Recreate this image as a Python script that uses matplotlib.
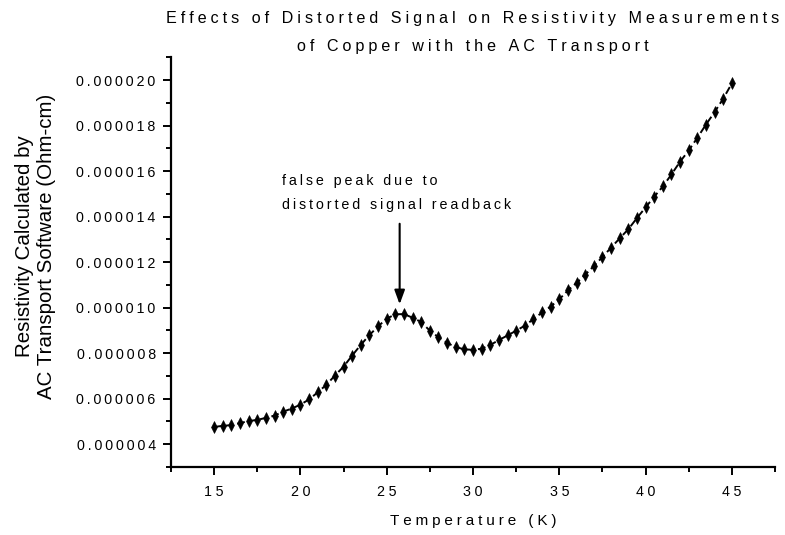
import matplotlib

matplotlib.use("Agg")

import matplotlib.pyplot as plt
import numpy as np
from matplotlib.ticker import FixedLocator, FuncFormatter

plt.rcParams["font.family"] = ["Liberation Sans", "DejaVu Sans"]

# temperature (K) and resistivity (in units of 1e-6 Ohm-cm)
temperature = [15.0, 15.5, 16.0, 16.5, 17.0, 17.5, 18.0, 18.5, 19.0, 19.5,
               20.0, 20.5, 21.0, 21.5, 22.0, 22.5, 23.0, 23.5, 24.0, 24.5,
               25.0, 25.5, 26.0, 26.5, 27.0, 27.5, 28.0, 28.5, 29.0, 29.5,
               30.0, 30.5, 31.0, 31.5, 32.0, 32.5, 33.0, 33.5, 34.0, 34.5,
               35.0, 35.5, 36.0, 36.5, 37.0, 37.5, 38.0, 38.5, 39.0, 39.5,
               40.0, 40.5, 41.0, 41.5, 42.0, 42.5, 43.0, 43.5, 44.0, 44.5,
               45.0]
resistivity_u = [4.76, 4.81, 4.84, 4.93, 5.02, 5.07, 5.16, 5.26, 5.43, 5.57,
                 5.74, 5.97, 6.28, 6.61, 7.02, 7.41, 7.90, 8.37, 8.80, 9.18,
                 9.52, 9.71, 9.72, 9.56, 9.37, 8.99, 8.70, 8.45, 8.27, 8.17,
                 8.15, 8.20, 8.36, 8.58, 8.78, 8.99, 9.21, 9.50, 9.79, 10.05,
                 10.37, 10.76, 11.09, 11.45, 11.83, 12.23, 12.64, 13.05, 13.45, 13.94,
                 14.41, 14.88, 15.33, 15.86, 16.42, 16.91, 17.47, 18.05, 18.60, 19.19,
                 19.86]

x_major = [15, 20, 25, 30, 35, 40, 45]
x_minor = [12.5, 17.5, 22.5, 27.5, 32.5, 37.5, 42.5, 47.5]
y_major_u = [4, 6, 8, 10, 12, 14, 16, 18, 20]
y_minor_u = [3, 5, 7, 9, 11, 13, 15, 17, 19, 21]

title_lines = ["Effects of Distorted Signal on Resistivity Measurements",
               "of Copper with the AC Transport"]
note_lines = ["false peak due to", "distorted signal readback"]
peak_at = (25.75, 10.15)
note_from = (25.75, 13.69)

THIN = "\u2009"
WIDE = "\u2005"


def track(s, sp=THIN):
    return sp.join(s)


fig = plt.figure(figsize=(7.85, 5.35), dpi=100)
ax = fig.add_axes([0.2178, 0.1271, 0.7695, 0.7656])

rho = np.array(resistivity_u) * 1e-6
ax.plot(temperature, rho, ls="--", lw=1.4, color="black", dashes=(4, 2),
        marker="d", markersize=5.8, markerfacecolor="black", markeredgecolor="black",
        markeredgewidth=0.4)

ax.set_xlim(12.5, 47.5)
ax.set_ylim(3e-6, 21e-6)
ax.xaxis.set_major_locator(FixedLocator(x_major))
ax.xaxis.set_minor_locator(FixedLocator(x_minor))
ax.yaxis.set_major_locator(FixedLocator(np.array(y_major_u) * 1e-6))
ax.yaxis.set_minor_locator(FixedLocator(np.array(y_minor_u) * 1e-6))
ax.xaxis.set_major_formatter(FuncFormatter(lambda v, p: track("%d" % round(v), WIDE)))
ax.yaxis.set_major_formatter(FuncFormatter(lambda v, p: track("%.6f" % v)))

for side in ("top", "right"):
    ax.spines[side].set_visible(False)
for side in ("left", "bottom"):
    ax.spines[side].set_linewidth(1.6)

ax.tick_params(which="major", direction="out", length=6, width=1.4,
               labelsize=10.3, colors="black")
ax.tick_params(axis="y", which="major", pad=5)
ax.tick_params(axis="x", which="major", pad=7)
ax.tick_params(which="minor", direction="out", length=3.5, width=1.4)

ax.text(18.94, 15.59e-6, track(note_lines[0]), fontsize=10.3, va="center", ha="left")
ax.text(18.94, 14.53e-6, track(note_lines[1]), fontsize=10.3, va="center", ha="left")
ax.annotate("", xy=(peak_at[0], peak_at[1] * 1e-6),
            xytext=(note_from[0], note_from[1] * 1e-6),
            arrowprops=dict(arrowstyle="-|>,head_length=0.6,head_width=0.22", lw=1.5,
                            color="black", mutation_scale=14, shrinkA=0, shrinkB=0))

cx = 0.6025
fig.text(cx, 0.9645, track(title_lines[0], WIDE), fontsize=11.6, ha="center", va="center")
fig.text(cx, 0.914, track(title_lines[1], WIDE), fontsize=11.6, ha="center", va="center")
fig.text(cx, 0.026, track("Temperature (K)", WIDE), fontsize=11, ha="center", va="center")
fig.text(0.0452, 0.54, "Resistivity Calculated by\nAC Transport Software (Ohm-cm)",
         fontsize=14.8, rotation=90, ha="center", va="center", linespacing=1.2,
         multialignment="center")

fig.savefig("out.png", dpi=100)
